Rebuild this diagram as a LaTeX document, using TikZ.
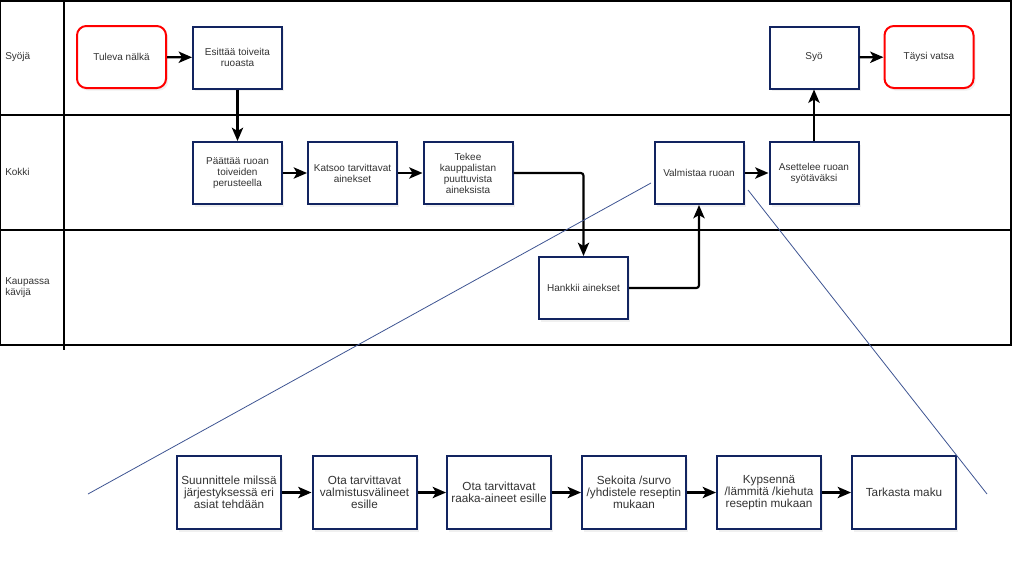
\documentclass[tikz,border=0pt]{standalone}
\usepackage{fontspec}
\setmainfont{Liberation Sans}
\usetikzlibrary{arrows.meta,shadows}
\definecolor{navy}{RGB}{18,36,96}
\definecolor{txt}{RGB}{51,51,51}
\definecolor{zoomline}{RGB}{62,84,146}

\begin{document}
\begin{tikzpicture}[x=0.75pt,y=-0.75pt,
 lane/.style={line width=1.1pt},
 lanename/.style={anchor=west,align=left,text=txt,inner sep=0pt,
     font=\fontsize{7.5}{8.25}\selectfont},
 act/.style={draw=navy,line width=1.5pt,fill=white,align=center,
     minimum width=66.75pt,minimum height=46.5pt,inner sep=1pt,
     text=txt,font=\fontsize{7.5}{8.25}\selectfont,
     drop shadow={shadow xshift=1.5pt,shadow yshift=-2pt,opacity=0.12}},
 ev/.style={act,draw=red,rounded corners=7pt},
 sub/.style={act,minimum width=78pt,minimum height=54.75pt,
     font=\fontsize{8.8}{8.8}\selectfont},
 flow/.style={line width=1.6pt,-{Stealth[length=10pt,width=8.5pt,inset=2.5pt]}},
 zoom/.style={draw=zoomline,line width=0.6pt}]
 \useasboundingbox (0,0) rectangle (1013,564);
 % pool and lanes
 \draw[lane] (0.5,1) rectangle (1011,345);
 \draw[lane] (0.5,115) -- (1011,115);
 \draw[lane] (0.5,230) -- (1011,230);
 \draw[lane] (64,1) -- (64,350);
 \node[lanename] (l1) at (5,57) {Syöjä};
 \node[lanename] (l2) at (5,172) {Kokki};
 \node[lanename] (l3) at (5,288) {Kaupassa\\kävijä};
 % Syöjä
 \node[ev] (nalka) at (121.5,57) {Tuleva nälkä};
 \node[act] (toive) at (237.5,57.5) {Esittää toiveita\\ruoasta};
 \node[act] (syo) at (814,57.5) {Syö};
 \node[ev] (vatsa) at (929,57) {Täysi vatsa};
 % Kokki
 \node[act] (paatos) at (237.5,173) {Päättää ruoan\\toiveiden\\perusteella};
 \node[act] (katsoo) at (352.5,173) {Katsoo tarvittavat\\ainekset};
 \node[act] (lista) at (468,173) {Tekee\\kauppalistan\\puuttuvista\\aineksista};
 \node[act] (valm) at (699,173) {Valmistaa ruoan};
 \node[act] (aset) at (814,173) {Asettelee ruoan\\syötäväksi};
 % Kaupassa kävijä
 \node[act] (hanki) at (583.5,288) {Hankkii ainekset};
 % valmistaa ruoan, tarkemmin
 \node[sub] (s1) at (229,492.5) {Suunnittele milssä\\järjestyksessä eri\\asiat tehdään};
 \node[sub] (s2) at (364.5,492.5) {Ota tarvittavat\\valmistusvälineet\\esille};
 \node[sub] (s3) at (499,492.5) {Ota tarvittavat\\raaka-aineet esille};
 \node[sub] (s4) at (634,492.5) {Sekoita /survo\\/yhdistele reseptin\\mukaan};
 \node[sub] (s5) at (769,492.5) {Kypsennä\\/lämmitä /kiehuta\\reseptin mukaan};
 \node[sub] (s6) at (904,492.5) {Tarkasta maku};
 \draw[flow] (nalka) -- (toive);
 \draw[flow] (toive) -- (paatos);
 \draw[flow] (paatos) -- (katsoo);
 \draw[flow] (katsoo) -- (lista);
 \draw[flow,rounded corners=2pt] (lista.east) -| (hanki.north);
 \draw[flow,rounded corners=2pt] (hanki.east) -| (valm.south);
 \draw[flow] (valm) -- (aset);
 \draw[flow] (aset) -- (syo);
 \draw[flow] (syo) -- (vatsa);
 \foreach \a/\b in {s1/s2,s2/s3,s3/s4,s4/s5,s5/s6}
   \draw[flow] (\a) -- (\b);
 \coordinate (z1) at (651,183);
 \coordinate (z2) at (88,494);
 \coordinate (z3) at (748,190);
 \coordinate (z4) at (987,494);
 \draw[zoom] (z1) -- (z2);
 \draw[zoom] (z3) -- (z4);
\end{tikzpicture}
\end{document}
